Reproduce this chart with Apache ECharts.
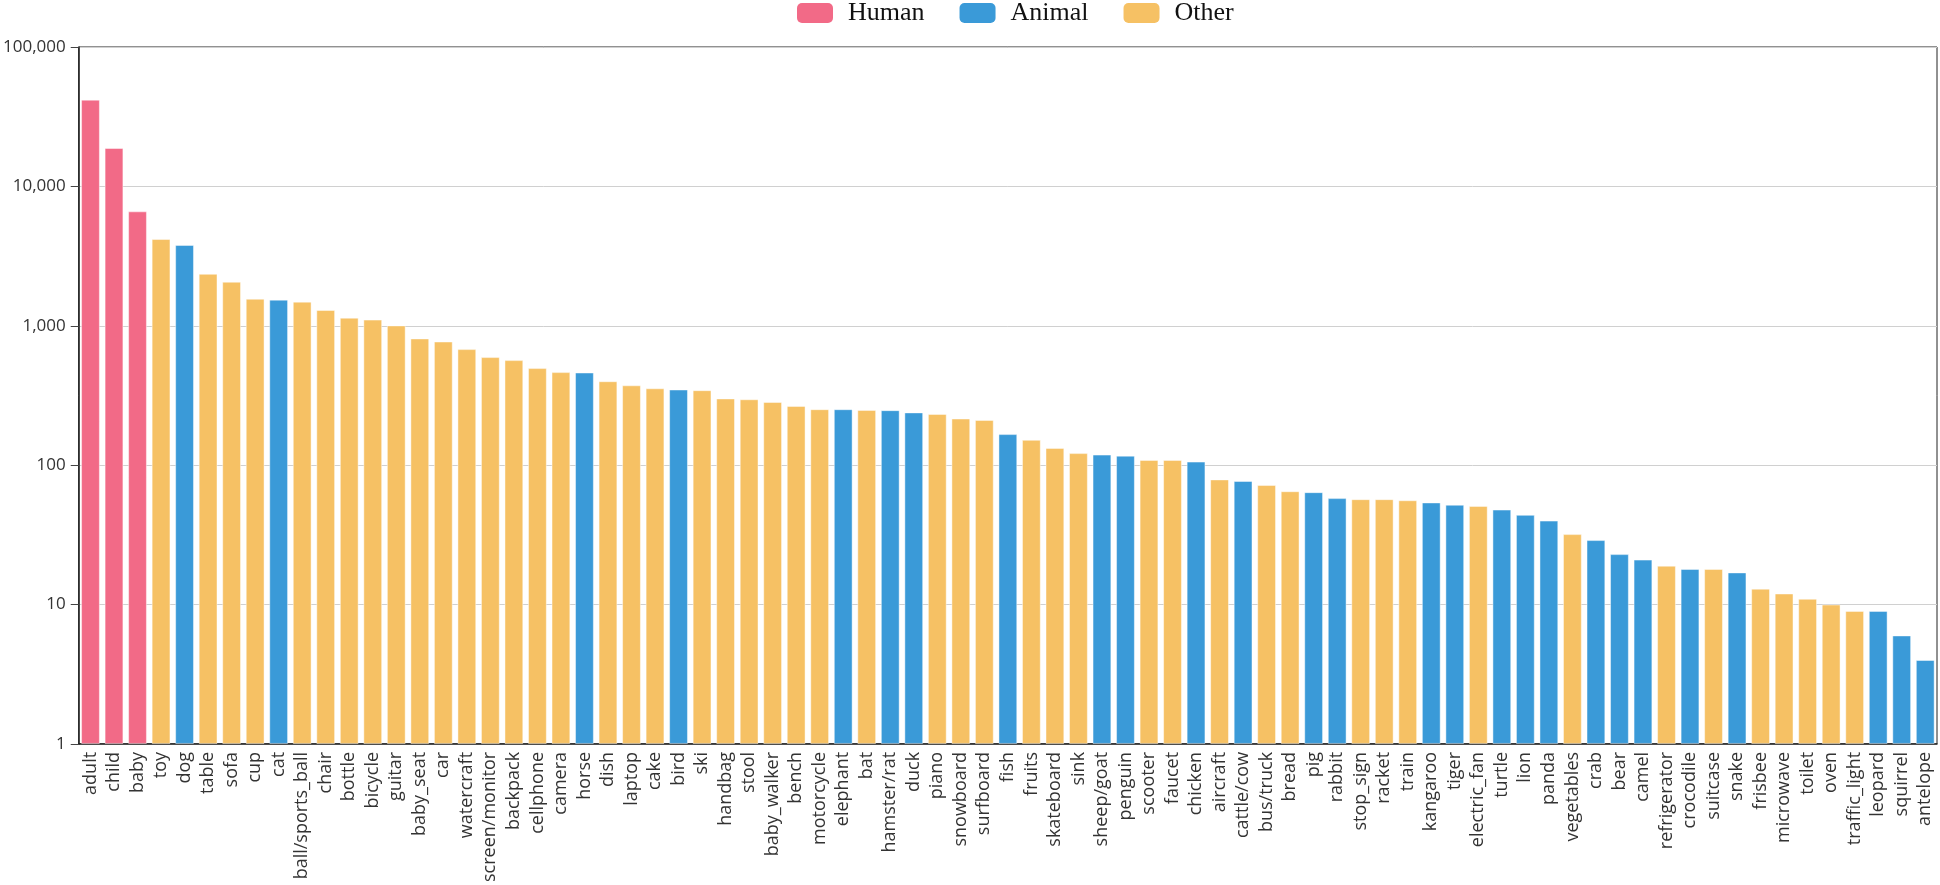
<!DOCTYPE html>
<html>
<head>
<meta charset="utf-8">
<script src="https://cdn.jsdelivr.net/npm/echarts@6/dist/echarts.min.js"></script>
<style>html,body{margin:0;padding:0;background:#fff}#c{width:1940px;height:885px}</style>
</head>
<body>
<div id="c"></div>
<script>
const categories = ["adult","child","baby","toy","dog","table","sofa","cup","cat","ball/sports_ball","chair","bottle","bicycle","guitar","baby_seat","car","watercraft","screen/monitor","backpack","cellphone","camera","horse","dish","laptop","cake","bird","ski","handbag","stool","baby_walker","bench","motorcycle","elephant","bat","hamster/rat","duck","piano","snowboard","surfboard","fish","fruits","skateboard","sink","sheep/goat","penguin","scooter","faucet","chicken","aircraft","cattle/cow","bus/truck","bread","pig","rabbit","stop_sign","racket","train","kangaroo","tiger","electric_fan","turtle","lion","panda","vegetables","crab","bear","camel","refrigerator","crocodile","suitcase","snake","frisbee","microwave","toilet","oven","traffic_light","leopard","squirrel","antelope"];
const values = [41900,18850,6620,4190,3800,2360,2070,1563,1540,1490,1297,1143,1107,1006,811,771,680,596,567,497,465,462,400,374,356,349,345,301,297,284,266,252,252,249,248,239,233,216,211,167,152,133,122,119,117,109,109,106,79,77,72,65,64,58,57,57,56,54,52,51,48,44,40,32,29,23,21,19,18,18,17,13,12,11,10,9,9,6,4];
const groups = ["Human","Human","Human","Other","Animal","Other","Other","Other","Animal","Other","Other","Other","Other","Other","Other","Other","Other","Other","Other","Other","Other","Animal","Other","Other","Other","Animal","Other","Other","Other","Other","Other","Other","Animal","Other","Animal","Animal","Other","Other","Other","Animal","Other","Other","Other","Animal","Animal","Other","Other","Animal","Other","Animal","Other","Other","Animal","Animal","Other","Other","Other","Animal","Animal","Other","Animal","Animal","Animal","Other","Animal","Animal","Animal","Other","Animal","Other","Animal","Other","Other","Other","Other","Other","Animal","Animal","Animal"];
const seriesNames = ["Human","Animal","Other"];
const seriesColors = ["#f26a87","#3a9ad8","#f6c164"];
const yTicks = [1,10,100,1000,10000,100000];

const series = seriesNames.map((name, si) => ({
  name: name,
  type: 'bar',
  barGap: '-100%',
  barCategoryGap: '20%',
  itemStyle: { color: seriesColors[si], borderColor: 'rgba(255,255,255,0.45)', borderWidth: 1 },
  data: values.map((v, i) => groups[i] === name ? v : '-')
}));

const chart = echarts.init(document.getElementById('c'), null, { renderer: 'canvas' });
chart.setOption({
  animation: false,
  legend: {
    left: 797, top: 0, padding: 0,
    itemWidth: 36, itemHeight: 20, itemGap: 35,
    icon: 'roundRect',
    itemStyle: { borderWidth: 0 },
    textStyle: { fontFamily: 'Liberation Serif', fontSize: 26, color: '#111', lineHeight: 22, padding: [0,0,0,10] },
    data: seriesNames
  },
  grid: { left: 76, right: 3, top: 47, bottom: 140, show: true, borderColor: '#222', borderWidth: 1, containLabel: false },
  xAxis: {
    type: 'category',
    data: categories,
    axisLine: { lineStyle: { color: '#222', width: 1.5 } },
    axisTick: { length: 6, lineStyle: { color: '#444' } },
    axisLabel: { interval: 0, rotate: 90, margin: 8, fontFamily: 'Open Sans', fontSize: 18, color: '#333' }
  },
  yAxis: {
    type: 'log',
    logBase: 10,
    min: yTicks[0],
    max: yTicks[yTicks.length - 1],
    axisLine: { show: true, lineStyle: { color: '#222', width: 1.5 } },
    axisTick: { show: true, length: 8, lineStyle: { color: '#444' } },
    splitLine: { lineStyle: { color: '#d0d0d0', width: 1 } },
    axisLabel: {
      margin: 13, fontFamily: 'Open Sans', fontSize: 17, color: '#333',
      verticalAlign: 'middle', padding: [0,0,12,0],
      formatter: v => Number(v).toLocaleString('en-US')
    }
  },
  series: series
});
</script>
</body>
</html>
